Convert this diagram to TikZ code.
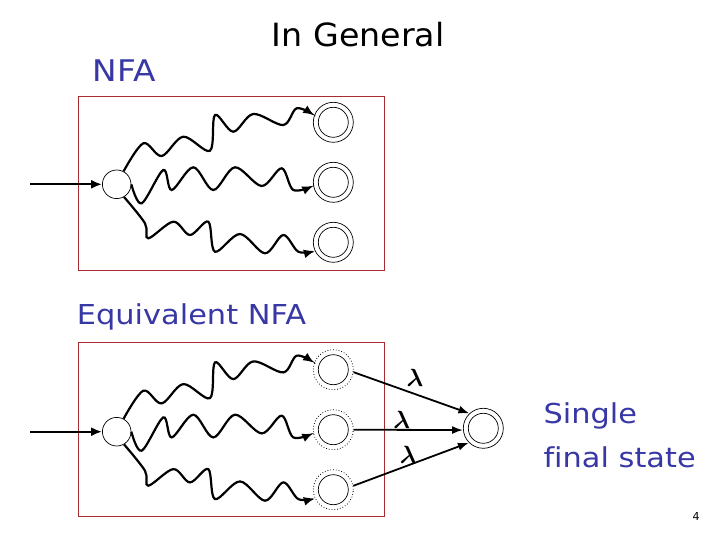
\documentclass[tikz,border=0pt]{standalone}
\usepackage{fontspec}
\setmainfont[Ligatures=NoCommon]{DejaVu Sans}
\usetikzlibrary{arrows.meta}
\definecolor{boxred}{RGB}{165,45,50}
\definecolor{txtblue}{RGB}{55,55,165}
\tikzset{
  boxline/.style={draw=boxred,line width=1pt},
  st/.style={circle,draw,line width=0.7pt,minimum size=28.6pt,inner sep=0pt},
  finsolid/.style={circle,draw,line width=0.7pt,minimum size=40pt,inner sep=0pt},
  findot/.style={circle,draw,dotted,line width=0.8pt,minimum size=40pt,inner sep=0pt},
  innerc/.style={draw,line width=0.7pt},
  wave/.style={line width=2.2pt,-{Latex[length=11pt,width=9pt]}},
  inarr/.style={line width=2pt,-{Latex[length=11pt,width=9pt]}},
  lam/.style={line width=1.8pt,-{Latex[length=11pt,width=8pt]}},
  lbl/.style={anchor=base west,inner sep=0pt},
  lamtxt/.style={font=\fontsize{24}{28}\selectfont\boldmath,inner sep=0pt},
}
\newcommand\nfapart[2]{%
  \coordinate (#1in) at (30,184.3);
  \node[st] (#1s) at (116.7,184.3) {};
  \node[#2] (#1f1) at (333.3,122.3) {};
  \node[#2] (#1f2) at (333.3,182.3) {};
  \node[#2] (#1f3) at (333.3,242.3) {};
  \draw[innerc] (#1f1.center) circle[radius=15pt];
  \draw[innerc] (#1f2.center) circle[radius=15pt];
  \draw[innerc] (#1f3.center) circle[radius=15pt];
  \draw[inarr] (#1in) -- (#1s);
  \draw[wave] plot[smooth,tension=0.55] coordinates {(#1s.62) (143.3,143.3) (161.7,156) (183.3,136.7) (210,150.7) (215,115) (233.3,131.7) (253.3,114) (283.3,125) (296.7,108.3) (#1f1.160)};
  \draw[wave] plot[smooth,tension=0.55] coordinates {(#1s.0) (141.7,203.3) (163.3,170) (171.7,190) (193.3,167.3) (213.3,190) (235,167.3) (261.7,186) (281.7,168.3) (293.3,190) (#1f2.190)};
  \draw[wave] plot[smooth,tension=0.55] coordinates {(#1s.-60) (145,223.3) (148.3,238.3) (173.3,221.7) (190,235) (208.3,221.7) (215,251.7) (240,234) (265,253.3) (283.3,235) (298.3,251.7) (#1f3.205)};
}
\begin{document}
\begin{tikzpicture}[x=1pt,y=-1pt]
\path[use as bounding box] (0,0) rectangle (720,540);
% titles
\node[lbl,text=txtblue,font=\fontsize{29.8}{34}\selectfont] (tnfa) at (92.7,81.7) {\scalebox{1.1}[1]{NFA}};
\node[lbl,font=\fontsize{32}{36}\selectfont] (tgen) at (271.7,46.7) {\scalebox{1.04}[1]{In General}};
\node[lbl,text=txtblue,font=\fontsize{27.4}{32}\selectfont] (teq) at (76.7,324.3) {\scalebox{1.11}[1]{Equivalent NFA}};
\node[lbl,text=txtblue,font=\fontsize{27.4}{32}\selectfont] (tsing) at (543.3,423.3) {\scalebox{1.11}[1]{Single}};
\node[lbl,text=txtblue,font=\fontsize{27.4}{32}\selectfont] (tfin) at (543.3,467.3) {\scalebox{1.11}[1]{final state}};
\node[font=\fontsize{11}{13}\selectfont,inner sep=0pt] (pg) at (696,516.7) {4};
% top part
\draw[boxline] (78,96.7) rectangle (384,270);
\nfapart{a}{finsolid}
% bottom part
\draw[boxline] (78,342.3) rectangle (384,516);
\begin{scope}[shift={(0,247.4)}]
\nfapart{b}{findot}
\end{scope}
\node[finsolid] (F) at (483.3,428.3) {};
\draw[innerc] (F.center) circle[radius=15pt];
\draw[lam] (bf1.-7) -- (F.133);
\draw[lam] (bf2.0) -- (F.185);
\draw[lam] (bf3.11) -- (F.225);
\node[lamtxt] (l1) at (415,378.3) {$\lambda$};
\node[lamtxt] (l2) at (401.7,420) {$\lambda$};
\node[lamtxt] (l3) at (408.3,455) {$\lambda$};
\end{tikzpicture}
\end{document}
